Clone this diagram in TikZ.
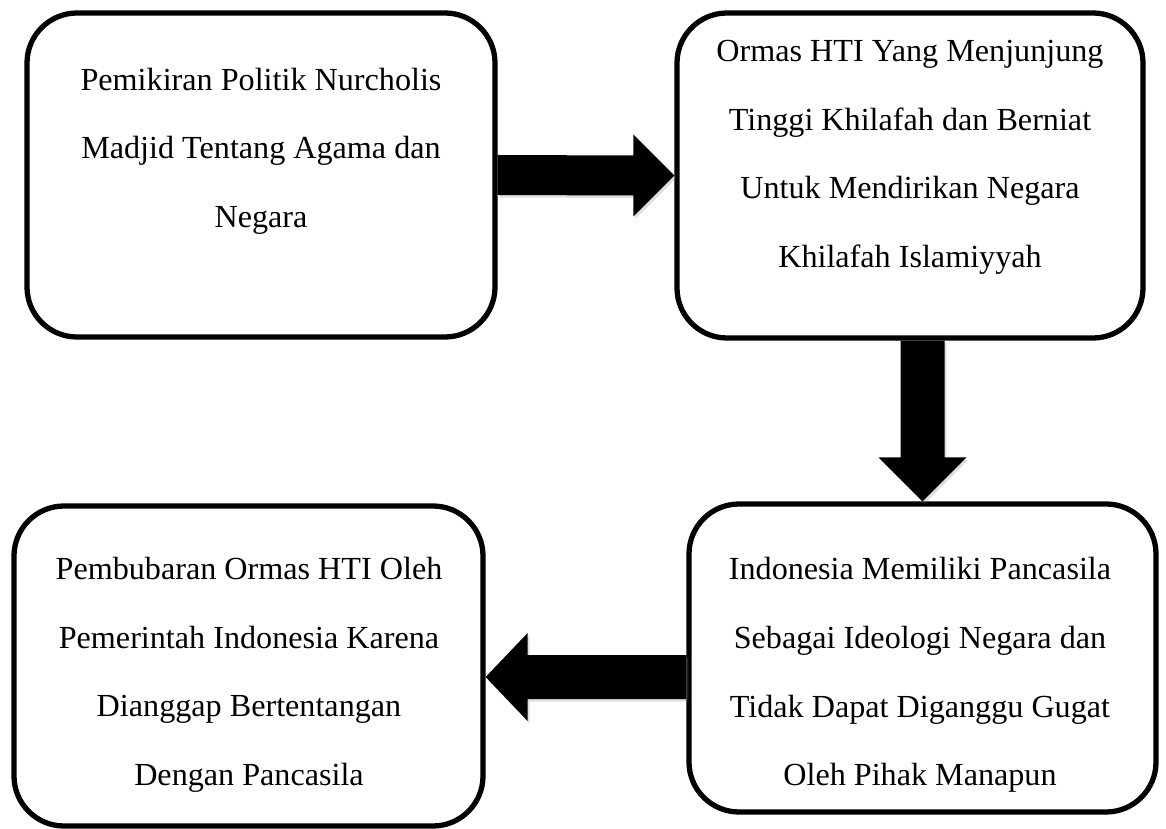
\documentclass[tikz,border=0pt]{standalone}
\usepackage{fontspec}
\setmainfont{Liberation Serif}
\usetikzlibrary{calc, positioning, shadows}

\begin{document}
\begin{tikzpicture}[
    stepbox/.style={
        rectangle, draw, line width=3pt, rounded corners=1cm
    },
    steptext/.style={
        align=center, inner sep=0pt, font=\fontsize{18.3}{39}\selectfont
    },
    blockarrow/.style={
        fill=black,
        drop shadow={shadow xshift=0.04cm, shadow yshift=-0.05cm, opacity=0.25}
    },
]
\useasboundingbox (0,0) rectangle (23.32,-16.58);

% Pemikiran box (top-left)
\node[stepbox, minimum width=9.36cm, minimum height=6.48cm] (b1) at (5.22,-3.5) {};
\node[steptext] (t1) at (5.22,-3.02) {Pemikiran Politik Nurcholis\\Madjid Tentang Agama dan\\Negara};

% Ormas HTI box (top-right)
\node[stepbox, minimum width=9.32cm, minimum height=6.5cm] (b2) at (18.2,-3.51) {};
\node[steptext] (t2) at (18.2,-3.15) {Ormas HTI Yang Menjunjung\\Tinggi Khilafah dan Berniat\\Untuk Mendirikan Negara\\Khilafah Islamiyyah};

% Pancasila box (bottom-right)
\node[stepbox, minimum width=9.34cm, minimum height=6.16cm] (b3) at (18.45,-13.16) {};
\node[steptext] (t3) at (18.4,-13.5) {Indonesia Memiliki Pancasila\\Sebagai Ideologi Negara dan\\Tidak Dapat Diganggu Gugat\\Oleh Pihak Manapun};

% Pembubaran box (bottom-left)
\node[stepbox, minimum width=9.38cm, minimum height=6.4cm] (b4) at (4.97,-13.32) {};
\node[steptext] (t4) at (4.98,-13.5) {Pembubaran Ormas HTI Oleh\\Pemerintah Indonesia Karena\\Dianggap Bertentangan\\Dengan Pancasila};

% b1 -> b2 (block arrow to the right)
\fill[blockarrow] ($(b1.east)+(0,0.4)$) -- ($(b2.west)+(-0.82,0.4)$)
    -- ($(b2.west)+(-0.82,0.82)$) -- (b2.west)
    -- ($(b2.west)+(-0.82,-0.82)$) -- ($(b2.west)+(-0.82,-0.4)$)
    -- ($(b1.east)+(0,-0.4)$) -- cycle;

% b2 -> b3 (block arrow down)
\coordinate (da) at (b3.north |- b2.south);
\fill[blockarrow] ($(da)+(-0.44,0)$) -- ($(b3.north)+(-0.44,0.88)$)
    -- ($(b3.north)+(-0.88,0.88)$) -- (b3.north)
    -- ($(b3.north)+(0.88,0.88)$) -- ($(b3.north)+(0.44,0.88)$)
    -- ($(da)+(0.44,0)$) -- cycle;

% b3 -> b4 (block arrow to the left)
\coordinate (la) at ($(b3.west)+(0,-0.38)$);
\coordinate (lt) at (b4.east |- la);
\fill[blockarrow] ($(la)+(0,0.44)$) -- ($(lt)+(0.84,0.44)$)
    -- ($(lt)+(0.84,0.88)$) -- (lt)
    -- ($(lt)+(0.84,-0.88)$) -- ($(lt)+(0.84,-0.44)$)
    -- ($(la)+(0,-0.44)$) -- cycle;

\end{tikzpicture}
\end{document}
